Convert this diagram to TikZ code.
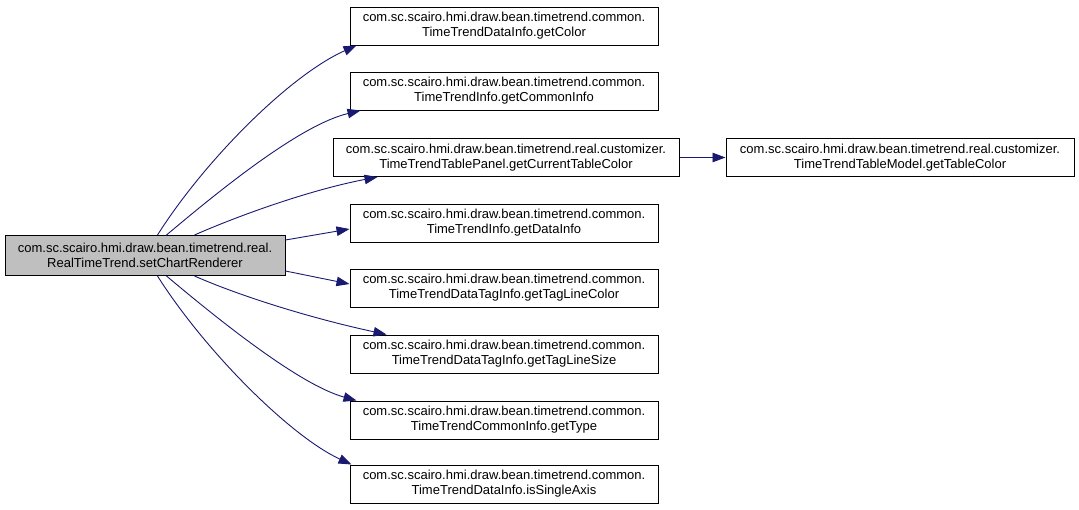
\documentclass[tikz,border=0pt]{standalone}
\usepackage{fontspec}
\setmainfont{Liberation Sans}
\usetikzlibrary{arrows.meta}
\definecolor{edgeblue}{HTML}{191970}
\definecolor{greyfill}{HTML}{BFBFBF}
\tikzset{
  fn/.style={draw=black, line width=1pt, fill=white, minimum width=308pt, minimum height=38pt,
    inner sep=0pt, align=center, font=\fontsize{13pt}{15pt}\selectfont},
  cur/.style={fn, fill=greyfill, minimum width=280pt, minimum height=40pt},
  call/.style={draw=edgeblue, line width=0.9pt, -{Triangle[length=13pt,width=9.5pt]}, fill=none},
}
\begin{document}
\begin{tikzpicture}[x=1pt,y=-1pt]
\useasboundingbox (0,0) rectangle (1079,509);
\node[cur] (L) at (145,255.5) {com.sc.scairo.hmi.draw.bean.timetrend.real.\\RealTimeTrend.setChartRenderer};
\node[fn] (n1) at (504,26) {com.sc.scairo.hmi.draw.bean.timetrend.common.\\TimeTrendDataInfo.getColor};
\node[fn] (n2) at (504,91) {com.sc.scairo.hmi.draw.bean.timetrend.common.\\TimeTrendInfo.getCommonInfo};
\node[fn, minimum width=346pt] (n3) at (506,157.5) {com.sc.scairo.hmi.draw.bean.timetrend.real.customizer.\\TimeTrendTablePanel.getCurrentTableColor};
\node[fn, minimum width=348pt] (n9) at (900,157.5) {com.sc.scairo.hmi.draw.bean.timetrend.real.customizer.\\TimeTrendTableModel.getTableColor};
\node[fn] (n4) at (504,223) {com.sc.scairo.hmi.draw.bean.timetrend.common.\\TimeTrendInfo.getDataInfo};
\node[fn] (n5) at (504,288) {com.sc.scairo.hmi.draw.bean.timetrend.common.\\TimeTrendDataTagInfo.getTagLineColor};
\node[fn] (n6) at (504,354) {com.sc.scairo.hmi.draw.bean.timetrend.common.\\TimeTrendDataTagInfo.getTagLineSize};
\node[fn] (n7) at (504,420) {com.sc.scairo.hmi.draw.bean.timetrend.common.\\TimeTrendCommonInfo.getType};
\node[fn] (n8) at (504,484) {com.sc.scairo.hmi.draw.bean.timetrend.common.\\TimeTrendDataInfo.isSingleAxis};

\draw[call] ([xshift=153pt]L.north west) .. controls (205,160) and (290,75) .. ([xshift=7pt]n1.south west);
\draw[call] ([xshift=162pt]L.north west) .. controls (220,190) and (300,125) .. ([xshift=11pt]n2.south west);
\draw[call] ([xshift=190pt]L.north west) .. controls (240,215) and (310,190) .. ([xshift=45pt]n3.south west);
\draw[call] ([yshift=-5pt]L.north east) -- ([yshift=-6pt]n4.west);
\draw[call] ([yshift=5pt]L.south east) -- ([yshift=4pt]n5.west);
\draw[call] ([xshift=190pt]L.south west) .. controls (240,296) and (310,318) .. ([xshift=37pt]n6.north west);
\draw[call] ([xshift=162pt]L.south west) .. controls (220,321) and (300,385) .. ([xshift=7pt]n7.north west);
\draw[call] ([xshift=153pt]L.south west) .. controls (205,351) and (290,436) .. ([xshift=2pt]n8.north west);
\draw[call] (n3) -- (n9);
\end{tikzpicture}
\end{document}
